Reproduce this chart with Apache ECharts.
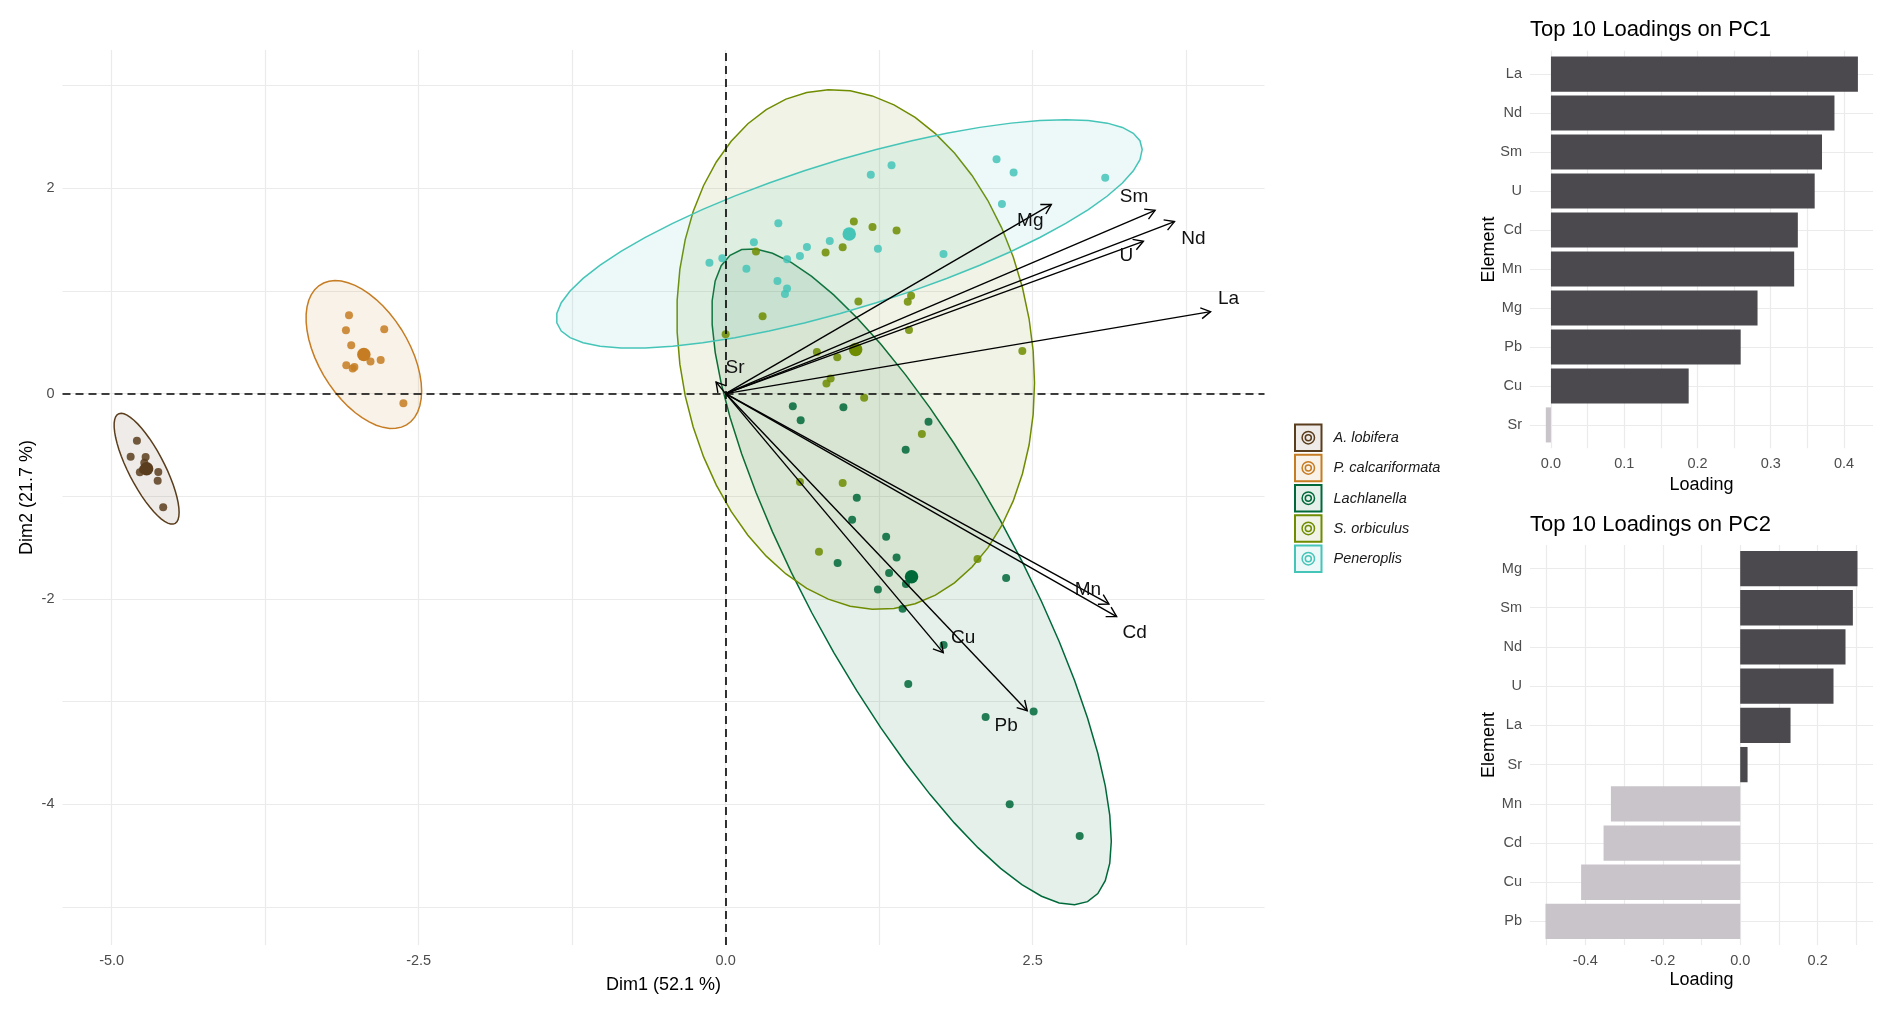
<!DOCTYPE html>
<html>
<head>
<meta charset="utf-8">
<title>PCA biplot</title>
<script src="https://cdn.jsdelivr.net/npm/echarts@6/dist/echarts.min.js"></script>
<style>
  html, body { margin: 0; padding: 0; background: #fff; }
  #main { width: 1892px; height: 1009px; }
</style>
</head>
<body>
<div id="main"></div>
<script>
// ---- groups (individuals on Dim1 / Dim2) ----
var groupNames = ['A. lobifera', 'P. calcariformata', 'Lachlanella', 'S. orbiculus', 'Peneroplis'];
var groupColors = ['#5a3d1c', '#c67c22', '#00693a', '#6f8c00', '#45c4b8'];

var lobiferaPts = [[-4.794, -0.459], [-4.845, -0.614], [-4.723, -0.617], [-4.734, -0.673], [-4.620, -0.763],
  [-4.625, -0.848], [-4.770, -0.766], [-4.745, -0.740], [-4.580, -1.107]];
var calcariformataPts = [[-3.067, 0.763], [-3.092, 0.617], [-2.780, 0.626], [-3.049, 0.470], [-2.892, 0.313],
  [-2.809, 0.326], [-3.089, 0.277], [-3.023, 0.258], [-3.037, 0.245], [-2.624, -0.095]];
var lachlanellaPts = [[0.547, -0.123], [0.959, -0.134], [0.611, -0.260], [1.652, -0.274], [1.466, -0.548],
  [1.068, -1.014], [1.030, -1.229], [1.307, -1.394], [1.392, -1.596], [0.912, -1.651], [1.331, -1.747],
  [2.284, -1.795], [1.240, -1.908], [1.468, -1.854], [1.441, -2.095], [1.775, -2.448], [1.487, -2.828],
  [2.117, -3.149], [2.508, -3.097], [2.313, -3.999], [2.883, -4.308]];
var orbiculusPts = [[1.044, 1.675], [1.196, 1.623], [1.392, 1.589], [0.814, 1.373], [0.953, 1.425],
  [0.247, 1.384], [0.301, 0.753], [0.000, 0.579], [1.081, 0.897], [1.510, 0.952], [1.483, 0.894],
  [1.493, 0.620], [2.416, 0.414], [0.743, 0.404], [0.909, 0.353], [0.855, 0.147], [0.821, 0.099],
  [1.128, -0.041], [1.598, -0.394], [0.605, -0.860], [0.953, -0.870], [0.760, -1.541], [2.051, -1.610]];
var peneroplisPts = [[2.206, 2.281], [2.345, 2.154], [3.091, 2.103], [1.182, 2.130], [1.351, 2.223],
  [2.250, 1.846], [0.429, 1.658], [0.230, 1.473], [0.848, 1.486], [0.662, 1.428], [0.605, 1.339],
  [0.500, 1.308], [1.240, 1.411], [1.774, 1.360], [-0.132, 1.274], [-0.027, 1.318], [0.169, 1.216],
  [0.422, 1.096], [0.500, 1.024], [0.483, 0.969]];
var groupPts = [lobiferaPts, calcariformataPts, lachlanellaPts, orbiculusPts, peneroplisPts];

// ---- variables (loading arrows) ----
var varNames = ['Mg', 'Sm', 'Nd', 'U', 'La', 'Sr', 'Mn', 'Cd', 'Cu', 'Pb'];
var varDim1 = [2.652, 3.497, 3.655, 3.402, 3.949, -0.078, 3.121, 3.184, 1.772, 2.456];
var varDim2 = [1.842, 1.784, 1.675, 1.483, 0.798, 0.113, -2.049, -2.172, -2.523, -3.088];
// label nudges in pixels (repelled labels)
var labelDx = [-21, -21, 19, -17, 18, 19, -21, 18, 20, -21];
var labelDy = [16, -14, 17, 14, -13, -14, -14, 16, -15, 15];

// ---- loadings bar charts ----
var pc1Elements = ['La', 'Nd', 'Sm', 'U', 'Cd', 'Mn', 'Mg', 'Pb', 'Cu', 'Sr'];
var pc1Loadings = [0.419, 0.387, 0.370, 0.360, 0.337, 0.332, 0.282, 0.259, 0.188, -0.007];
var pc2Elements = ['Mg', 'Sm', 'Nd', 'U', 'La', 'Sr', 'Mn', 'Cd', 'Cu', 'Pb'];
var pc2Loadings = [0.303, 0.291, 0.272, 0.241, 0.130, 0.019, -0.334, -0.353, -0.411, -0.503];

// ---- ticks ----
var dim1Grid = [-5, -3.75, -2.5, -1.25, 0, 1.25, 2.5, 3.75];
var dim1Labels = [-5, -2.5, 0, 2.5];
var dim2Grid = [-5, -4, -3, -2, -1, 0, 1, 2, 3];
var dim2Labels = [-4, -2, 0, 2];
var pc1Grid = [0, 0.05, 0.1, 0.15, 0.2, 0.25, 0.3, 0.35, 0.4];
var pc1Labels = [0, 0.1, 0.2, 0.3, 0.4];
var pc2Grid = [-0.5, -0.4, -0.3, -0.2, -0.1, 0, 0.1, 0.2, 0.3];
var pc2Labels = [-0.4, -0.2, 0, 0.2];
var catPos = [1, 2, 3, 4, 5, 6, 7, 8, 9, 10];

var FONT = '"Liberation Sans", Arial, Helvetica, sans-serif';
var TICK = '#4d4d4d';
var GRID = '#ebebeb';

function rgba(hex, a) {
  var n = parseInt(hex.slice(1), 16);
  return 'rgba(' + (n >> 16) + ',' + ((n >> 8) & 255) + ',' + (n & 255) + ',' + a + ')';
}
function mean(pts, k) {
  var s = 0;
  pts.forEach(function (p) { s += p[k]; });
  return s / pts.length;
}
// same as stat_ellipse(type = "norm", level = 0.95)
function ellipseOf(pts) {
  var n = pts.length, mx = mean(pts, 0), my = mean(pts, 1);
  var sxx = 0, syy = 0, sxy = 0;
  pts.forEach(function (p) {
    sxx += (p[0] - mx) * (p[0] - mx);
    syy += (p[1] - my) * (p[1] - my);
    sxy += (p[0] - mx) * (p[1] - my);
  });
  sxx /= n - 1; syy /= n - 1; sxy /= n - 1;
  var d2 = n - 1;
  var qf = d2 / 2 * (Math.pow(0.05, -2 / d2) - 1);   // qf(0.95, 2, n-1)
  var r = Math.sqrt(2 * qf);
  var a = Math.sqrt(sxx), b = sxy / a, c = Math.sqrt(syy - b * b);
  var out = [];
  for (var i = 0; i <= 51; i++) {
    var t = 2 * Math.PI * i / 51, u = Math.cos(t), v = Math.sin(t);
    out.push([mx + r * u * a, my + r * (u * b + v * c)]);
  }
  return out;
}

function valueAxis(grid, min, max, grid_vals, label_vals, fmt, extra) {
  var ax = {
    type: 'value', gridIndex: grid, min: min, max: max,
    axisLine: { show: false },
    axisTick: { show: false, customValues: grid_vals },
    axisLabel: { customValues: label_vals, formatter: fmt, color: TICK, fontSize: 14.5, fontFamily: FONT, margin: 8 },
    splitLine: { show: true, lineStyle: { color: GRID, width: 1.2 } },
    minorSplitLine: { show: false }
  };
  for (var k in extra) ax[k] = extra[k];
  return ax;
}

var myChart = echarts.init(document.getElementById('main'));
var series = [];

// ellipses
groupNames.forEach(function (g, gi) {
  var outline = ellipseOf(groupPts[gi]);
  series.push({
    type: 'custom', name: g, xAxisIndex: 0, yAxisIndex: 0, z: 1, silent: true,
    data: [[mean(groupPts[gi], 0), mean(groupPts[gi], 1)]],
    renderItem: function (params, api) {
      return {
        type: 'polygon',
        shape: { points: outline.map(function (p) { return api.coord(p); }) },
        style: { fill: rgba(groupColors[gi], 0.1), stroke: groupColors[gi], lineWidth: 1.5 }
      };
    }
  });
});

// dashed zero lines
series.push({
  type: 'line', xAxisIndex: 0, yAxisIndex: 0, data: [], z: 2,
  markLine: {
    silent: true, symbol: 'none', label: { show: false },
    lineStyle: { color: '#000', type: [8, 5], width: 1.6 },
    data: [{ xAxis: 0 }, { yAxis: 0 }]
  }
});

// points + group centres
groupNames.forEach(function (g, gi) {
  series.push({
    type: 'scatter', name: g, xAxisIndex: 0, yAxisIndex: 0, z: 3, silent: true,
    symbolSize: 8, data: groupPts[gi],
    itemStyle: { color: groupColors[gi], opacity: 0.85 }
  });
  series.push({
    type: 'scatter', name: g, xAxisIndex: 0, yAxisIndex: 0, z: 3, silent: true,
    symbolSize: 13.5, data: [[mean(groupPts[gi], 0), mean(groupPts[gi], 1)]],
    itemStyle: { color: groupColors[gi], opacity: 1 }
  });
});

// loading arrows
series.push({
  type: 'custom', xAxisIndex: 0, yAxisIndex: 0, z: 4, silent: true,
  data: varNames.map(function (v, i) { return [varDim1[i], varDim2[i], i]; }),
  renderItem: function (params, api) {
    var i = api.value(2);
    var p0 = api.coord([0, 0]), p1 = api.coord([api.value(0), api.value(1)]);
    var ang = Math.atan2(p1[1] - p0[1], p1[0] - p0[0]), L = 11, w = Math.PI / 6;
    var h1 = [p1[0] - L * Math.cos(ang - w), p1[1] - L * Math.sin(ang - w)];
    var h2 = [p1[0] - L * Math.cos(ang + w), p1[1] - L * Math.sin(ang + w)];
    return {
      type: 'group',
      children: [
        { type: 'line', shape: { x1: p0[0], y1: p0[1], x2: p1[0], y2: p1[1] }, style: { stroke: '#000', lineWidth: 1.4 } },
        { type: 'polyline', shape: { points: [h1, p1, h2] }, style: { stroke: '#000', lineWidth: 1.4, fill: null } },
        {
          type: 'text',
          style: {
            text: varNames[i], x: p1[0] + labelDx[i], y: p1[1] + labelDy[i],
            align: 'center', verticalAlign: 'middle', textAlign: 'center', textVerticalAlign: 'middle',
            font: '19px ' + FONT, fill: '#111'
          }
        }
      ]
    };
  }
});

// loading bars
function barSeries(gridIdx, vals) {
  return {
    type: 'custom', xAxisIndex: gridIdx, yAxisIndex: gridIdx, silent: true, z: 2,
    data: vals.map(function (v, i) { return [v, catPos[i]]; }),
    renderItem: function (params, api) {
      var v = api.value(0), c = api.value(1);
      var p0 = api.coord([0, c]), p1 = api.coord([v, c]);
      var h = api.size([0, 0.9])[1];
      return {
        type: 'rect',
        shape: { x: Math.min(p0[0], p1[0]), y: p0[1] - h / 2, width: Math.abs(p1[0] - p0[0]), height: h },
        style: { fill: v >= 0 ? '#4b494d' : '#c9c4ca' }
      };
    }
  };
}
series.push(barSeries(1, pc1Loadings));
series.push(barSeries(2, pc2Loadings));

var fmt1 = function (v) { return v.toFixed(1); };
var fmt0 = function (v) { return String(v); };

// legend (drawn as graphics: framed key with ring symbol)
var legendItems = [];
groupNames.forEach(function (g, gi) {
  var y0 = 423.5 + gi * 30.25;
  legendItems.push({ type: 'rect', shape: { x: 1295, y: y0 + 1, width: 26.5, height: 26.5 },
    style: { fill: rgba(groupColors[gi], 0.1), stroke: groupColors[gi], lineWidth: 2 } });
  legendItems.push({ type: 'circle', shape: { cx: 1308.3, cy: y0 + 14.2, r: 6.2 },
    style: { fill: 'none', stroke: groupColors[gi], lineWidth: 1.5 } });
  legendItems.push({ type: 'circle', shape: { cx: 1308.3, cy: y0 + 14.2, r: 3 },
    style: { fill: 'none', stroke: groupColors[gi], lineWidth: 1.5 } });
  legendItems.push({ type: 'text', x: 1333.5, y: y0 + 14.5,
    style: { text: g, font: 'italic 14.5px ' + FONT, fill: '#1a1a1a',
      align: 'left', verticalAlign: 'middle', textAlign: 'left', textVerticalAlign: 'middle' } });
});

function label(text, x, y, size, opts) {
  var el = { type: 'text', x: x, y: y, rotation: (opts && opts.rot) || 0,
    style: { text: text, font: size + 'px ' + FONT, fill: '#000',
      align: (opts && opts.align) || 'center', verticalAlign: 'middle',
      textAlign: (opts && opts.align) || 'center', textVerticalAlign: 'middle' } };
  return el;
}

var option = {
  animation: false,
  backgroundColor: '#fff',
  grid: [
    { left: 62.5, top: 50, width: 1202, height: 895, containLabel: false, outerBoundsMode: 'none' },
    { left: 1530, top: 50.7, width: 343, height: 397.6, containLabel: false, outerBoundsMode: 'none' },
    { left: 1530, top: 545, width: 343, height: 400, containLabel: false, outerBoundsMode: 'none' }
  ],
  xAxis: [
    valueAxis(0, -5.40, 4.388, dim1Grid, dim1Labels, fmt1, {}),
    valueAxis(1, -0.0286, 0.4396, pc1Grid, pc1Labels, fmt1, {}),
    valueAxis(2, -0.543, 0.343, pc2Grid, pc2Labels, fmt1, {})
  ],
  yAxis: [
    valueAxis(0, -5.37, 3.346, dim2Grid, dim2Labels, fmt0, {}),
    valueAxis(1, 0.4, 10.6, catPos, catPos, function (v) { return pc1Elements[Math.round(v) - 1]; }, { inverse: true }),
    valueAxis(2, 0.4, 10.6, catPos, catPos, function (v) { return pc2Elements[Math.round(v) - 1]; }, { inverse: true })
  ],
  graphic: [].concat(legendItems, [
    label('Dim1 (52.1 %)', 663.5, 985, 18),
    label('Dim2 (21.7 %)', 27, 497.5, 18, { rot: Math.PI / 2 }),
    label('Top 10 Loadings on PC1', 1530, 29.5, 22, { align: 'left' }),
    label('Top 10 Loadings on PC2', 1530, 525, 22, { align: 'left' }),
    label('Loading', 1701.5, 485, 18),
    label('Loading', 1701.5, 980, 18),
    label('Element', 1489, 249.5, 18, { rot: Math.PI / 2 }),
    label('Element', 1489, 745, 18, { rot: Math.PI / 2 })
  ]),
  series: series
};

myChart.setOption(option);
window.addEventListener('resize', function () {
  myChart.resize();
});
</script>
</body>
</html>
